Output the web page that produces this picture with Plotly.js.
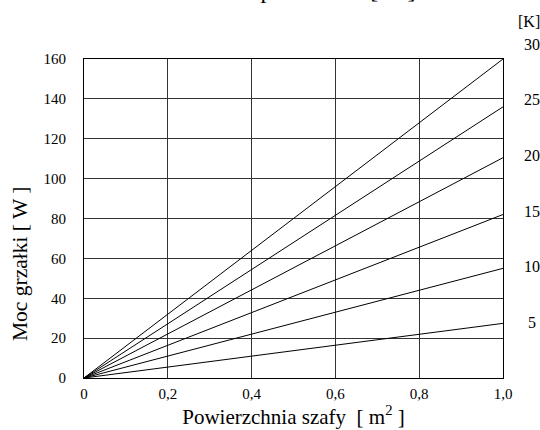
<!DOCTYPE html>
<html>
<head>
<meta charset="utf-8">
<script src="https://cdn.plot.ly/plotly-3.0.1.min.js"></script>
<style>html,body{margin:0;padding:0;background:#fff;}#chart{width:540px;height:430px;}</style>
</head>
<body>
<div id="chart"></div>
<script>
// Data
var areas = [0, 1.0];                        // m^2 (start and end of each line)
var deltaT = [5, 10, 15, 20, 25, 30];        // K
var powerAtOne = [27.4, 55, 82, 110.5, 136, 160]; // W at 1.0 m^2
var xTickVals = [0, 0.2, 0.4, 0.6, 0.8, 1.0];
var xTickText = ["0", "0,2", "0,4", "0,6", "0,8", "1,0"];
var yTickVals = [0, 20, 40, 60, 80, 100, 120, 140, 160];
var kAxisMax = 28.66; // right-hand K scale spans 0..kAxisMax over the plot height

var FONT = "'Liberation Serif', 'Times New Roman', Times, 'DejaVu Serif', serif";

var traces = deltaT.map(function (dt, i) {
  return {
    type: "scatter",
    mode: "lines",
    x: areas,
    y: [0, powerAtOne[i]],
    name: dt + " K",
    line: {color: "#000", width: 1},
    hoverinfo: "skip",
    showlegend: false
  };
});

var annotations = deltaT.map(function (dt) {
  return {
    xref: "paper", yref: "paper",
    x: 1.069, y: dt / kAxisMax,
    text: String(dt),
    showarrow: false,
    xanchor: "center", yanchor: "middle",
    font: {family: FONT, size: 16, color: "#000"}
  };
});
annotations.push({
  xref: "paper", yref: "paper",
  x: 1.062, y: 32 / kAxisMax,
  text: "[K]",
  showarrow: false,
  xanchor: "center", yanchor: "middle",
  font: {family: FONT, size: 16, color: "#000"}
});
annotations.push({
  xref: "paper", yref: "paper",
  x: 0.797, y: 1.17,
  text: "Różnica temperatur ΔT [ K ]",
  showarrow: false,
  xanchor: "right", yanchor: "bottom",
  font: {family: FONT, size: 24, color: "#000"}
});
// y-axis title (sits lower than the plot centre in the reference)
annotations.push({
  xref: "paper", yref: "paper",
  x: -0.153, y: 0.357,
  text: "Moc grzałki [ W ]",
  textangle: -90,
  showarrow: false,
  xanchor: "center", yanchor: "middle",
  font: {family: FONT, size: 21.5, color: "#000"}
});

var layout = {
  width: 540, height: 430,
  margin: {l: 84, r: 37, t: 59, b: 52},
  paper_bgcolor: "#fff", plot_bgcolor: "#fff",
  font: {family: FONT, size: 15, color: "#000"},
  showlegend: false,
  xaxis: {
    range: [0, 1.0],
    tickvals: xTickVals, ticktext: xTickText,
    ticks: "", ticklabelstandoff: 2,
    showgrid: true, gridcolor: "#333", gridwidth: 1,
    zeroline: false,
    showline: true, mirror: true, linecolor: "#000", linewidth: 1,
    tickfont: {family: FONT, size: 15, color: "#000"},
    title: {text: "Powierzchnia szafy  [ m<sup>2</sup> ]", font: {family: FONT, size: 21, color: "#000"}, standoff: 4}
  },
  yaxis: {
    range: [0, 160],
    tickvals: yTickVals,
    ticks: "", ticklabelstandoff: 14,
    showgrid: true, gridcolor: "#333", gridwidth: 1,
    zeroline: false,
    showline: true, mirror: true, linecolor: "#000", linewidth: 1,
    tickfont: {family: FONT, size: 15, color: "#000"}
  },
  annotations: annotations
};

Plotly.newPlot("chart", traces, layout, {displayModeBar: false, staticPlot: true});
</script>
</body>
</html>
